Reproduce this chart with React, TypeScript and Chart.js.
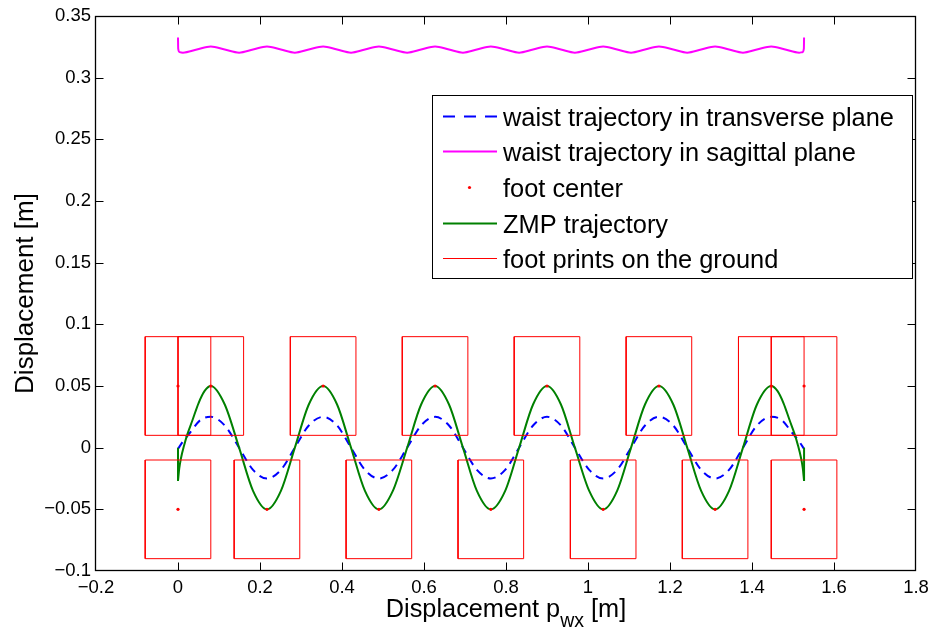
import React, { useEffect, useRef } from 'react';
import { Chart, registerables } from 'chart.js';

Chart.register(...registerables);

// ---- axes ----
const xTicks = [-0.2, 0, 0.2, 0.4, 0.6, 0.8, 1, 1.2, 1.4, 1.6, 1.8];
const yTicks = [-0.1, -0.05, 0, 0.05, 0.1, 0.15, 0.2, 0.25, 0.3, 0.35];
const xTitleMain = 'Displacement p';
const xTitleSub = 'wx';
const xTitleTail = ' [m]';
const yTitle = 'Displacement [m]';

// ---- foot prints ----
const footUpperX = [0, 0.08, 0.354, 0.627, 0.9, 1.173, 1.447, 1.527];
const footLowerX = [0, 0.217, 0.49, 0.763, 1.037, 1.31, 1.527];
const footUpperY = 0.05;
const footLowerY = -0.05;
const footLength = 0.16;
const footWidth = 0.08;

// ---- ZMP trajectory ----
const zmpX = [
  0, 0.003, 0.007, 0.015, 0.023, 0.035, 0.05, 0.065,
  0.08, 0.114, 0.149, 0.183, 0.217, 0.251, 0.285, 0.319,
  0.354, 0.388, 0.422, 0.456, 0.49, 0.524, 0.559, 0.593,
  0.627, 0.661, 0.695, 0.729, 0.763, 0.798, 0.832, 0.866,
  0.9, 0.934, 0.968, 1.003, 1.037, 1.071, 1.105, 1.139,
  1.173, 1.208, 1.242, 1.276, 1.31, 1.344, 1.378, 1.412,
  1.447,
  1.462, 1.477, 1.492, 1.504, 1.512, 1.52, 1.524, 1.527,
];
const zmpY = [
  -0.027, -0.017, -0.009, 0.002, 0.011, 0.022, 0.036, 0.046,
  0.05, 0.035, 0, -0.035, -0.05, -0.035, 0, 0.035,
  0.05, 0.035, 0, -0.035, -0.05, -0.035, 0, 0.035,
  0.05, 0.035, 0, -0.035, -0.05, -0.035, 0, 0.035,
  0.05, 0.035, 0, -0.035, -0.05, -0.035, 0, 0.035,
  0.05, 0.035, 0, -0.035, -0.05, -0.035, 0, 0.035,
  0.05,
  0.046, 0.036, 0.022, 0.011, 0.002, -0.009, -0.017, -0.027,
];
const zmpStubStartX = [0, 0];
const zmpStubStartY = [0.0, -0.027];
const zmpStubEndX = [1.527, 1.527];
const zmpStubEndY = [-0.027, 0.0];

// ---- waist trajectory in transverse plane ----
const waistX = [
  0, 0.012, 0.03, 0.055,
  0.08, 0.114, 0.149, 0.183, 0.217, 0.251, 0.285, 0.319,
  0.354, 0.388, 0.422, 0.456, 0.49, 0.524, 0.559, 0.593,
  0.627, 0.661, 0.695, 0.729, 0.763, 0.798, 0.832, 0.866,
  0.9, 0.934, 0.968, 1.003, 1.037, 1.071, 1.105, 1.139,
  1.173, 1.208, 1.242, 1.276, 1.31, 1.344, 1.378, 1.412,
  1.447,
  1.472, 1.497, 1.515, 1.527,
];
const waistY = [
  -0.001, 0.005, 0.0125, 0.0225,
  0.025, 0.018, 0, -0.018, -0.025, -0.018, 0, 0.018,
  0.025, 0.018, 0, -0.018, -0.025, -0.018, 0, 0.018,
  0.025, 0.018, 0, -0.018, -0.025, -0.018, 0, 0.018,
  0.025, 0.018, 0, -0.018, -0.025, -0.018, 0, 0.018,
  0.025, 0.018, 0, -0.018, -0.025, -0.018, 0, 0.018,
  0.025,
  0.0225, 0.0125, 0.005, -0.001,
];

// ---- waist trajectory in sagittal plane ----
const sagX = [
  0, 0.0005, 0.004, 0.012, 0.046,
  0.08, 0.114, 0.149, 0.183, 0.217, 0.251, 0.285, 0.319,
  0.354, 0.388, 0.422, 0.456, 0.49, 0.524, 0.559, 0.593,
  0.627, 0.661, 0.695, 0.729, 0.763, 0.798, 0.832, 0.866,
  0.9, 0.934, 0.968, 1.003, 1.037, 1.071, 1.105, 1.139,
  1.173, 1.208, 1.242, 1.276, 1.31, 1.344, 1.378, 1.412,
  1.447,
  1.481, 1.515, 1.523, 1.5265, 1.527,
];
const sagY = [
  0.3325, 0.3235, 0.3207, 0.3203, 0.3228,
  0.3253, 0.3228, 0.3203, 0.3228, 0.3253, 0.3228, 0.3203, 0.3228,
  0.3253, 0.3228, 0.3203, 0.3228, 0.3253, 0.3228, 0.3203, 0.3228,
  0.3253, 0.3228, 0.3203, 0.3228, 0.3253, 0.3228, 0.3203, 0.3228,
  0.3253, 0.3228, 0.3203, 0.3228, 0.3253, 0.3228, 0.3203, 0.3228,
  0.3253, 0.3228, 0.3203, 0.3228, 0.3253, 0.3228, 0.3203, 0.3228,
  0.3253,
  0.3228, 0.3203, 0.3207, 0.3235, 0.3325,
];

const legendLabels = [
  'waist trajectory in transverse plane',
  'waist trajectory in sagittal plane',
  'foot center',
  'ZMP trajectory',
  'foot prints on the ground',
];

const BLUE = '#0000ff';
const MAGENTA = '#ff00ff';
const RED = '#ff0000';
const GREEN = '#008000';
const FONT = '"Liberation Sans", Arial, Helvetica, sans-serif';

const fmtTick = (v: number) => String(+Number(v).toFixed(3)).replace('-', '\u2212');

const pts = (xs: number[], ys: number[]) => xs.map((x, i) => ({ x, y: ys[i] }));

const decorPlugin = {
  id: 'decor',
  afterDatasetsDraw(chart: any) {
    const { ctx, chartArea: a, scales } = chart;
    const xs = scales.x;
    const ys = scales.y;
    ctx.save();
    // frame
    ctx.strokeStyle = '#000';
    ctx.lineWidth = 1.3;
    const L = Math.round(a.left) - 0.5;
    const R = Math.round(a.right) - 0.5;
    const T = Math.round(a.top) + 0.5;
    const B = Math.round(a.bottom) - 0.5;
    ctx.strokeRect(L, T, R - L, B - T);
    // inward ticks
    ctx.lineWidth = 1;
    const tl = 8;
    ctx.beginPath();
    xTicks.forEach((v, i) => {
      if (i === 0 || i === xTicks.length - 1) return;
      const px = Math.round(xs.getPixelForValue(v)) + 0.5;
      ctx.moveTo(px, B); ctx.lineTo(px, B - tl);
      ctx.moveTo(px, T); ctx.lineTo(px, T + tl);
    });
    yTicks.forEach((v, i) => {
      if (i === 0 || i === yTicks.length - 1) return;
      const py = Math.round(ys.getPixelForValue(v)) + 0.5;
      ctx.moveTo(L, py); ctx.lineTo(L + tl, py);
      ctx.moveTo(R, py); ctx.lineTo(R - tl, py);
    });
    ctx.stroke();

    // legend
    const lx0 = 432.5, ly0 = 95.5, lw = 480, lh = 183;
    ctx.fillStyle = '#fff';
    ctx.fillRect(lx0, ly0, lw, lh);
    ctx.strokeStyle = '#000';
    ctx.lineWidth = 1;
    ctx.strokeRect(lx0, ly0, lw, lh);
    ctx.font = `25.4px ${FONT}`;
    ctx.textAlign = 'left';
    ctx.textBaseline = 'alphabetic';
    const sx0 = 443, sx1 = 497, tx = 503;
    legendLabels.forEach((label, i) => {
      const base = 125.7 + i * 35.6;
      const ly = Math.round(base - 10) + 0.5;
      ctx.save();
      if (i === 0) {
        ctx.strokeStyle = BLUE; ctx.lineWidth = 2; ctx.setLineDash([12, 9]);
        ctx.beginPath(); ctx.moveTo(sx0, ly); ctx.lineTo(sx1, ly); ctx.stroke();
      } else if (i === 1) {
        ctx.strokeStyle = MAGENTA; ctx.lineWidth = 2;
        ctx.beginPath(); ctx.moveTo(sx0, ly); ctx.lineTo(sx1, ly); ctx.stroke();
      } else if (i === 2) {
        ctx.fillStyle = RED;
        ctx.beginPath(); ctx.arc((sx0 + sx1) / 2 - 0.5, ly, 1.6, 0, Math.PI * 2); ctx.fill();
      } else if (i === 3) {
        ctx.strokeStyle = GREEN; ctx.lineWidth = 2;
        ctx.beginPath(); ctx.moveTo(sx0, ly); ctx.lineTo(sx1, ly); ctx.stroke();
      } else {
        ctx.strokeStyle = RED; ctx.lineWidth = 1;
        ctx.beginPath(); ctx.moveTo(sx0, ly); ctx.lineTo(sx1, ly); ctx.stroke();
      }
      ctx.restore();
      ctx.fillStyle = '#000';
      ctx.fillText(label, tx, base);
    });

    // x title
    const mainFont = `25.3px ${FONT}`;
    const subFont = `19.5px ${FONT}`;
    ctx.font = mainFont;
    const w1 = ctx.measureText(xTitleMain).width;
    const w3 = ctx.measureText(xTitleTail).width;
    ctx.font = subFont;
    const w2 = ctx.measureText(xTitleSub).width;
    const total = w1 + w2 + w3;
    let cx = (a.left + a.right) / 2 - total / 2;
    const baseY = 616.5;
    ctx.fillStyle = '#000';
    ctx.textAlign = 'left';
    ctx.font = mainFont;
    ctx.fillText(xTitleMain, cx, baseY);
    cx += w1;
    ctx.font = subFont;
    ctx.fillText(xTitleSub, cx, baseY + 10.5);
    cx += w2;
    ctx.font = mainFont;
    ctx.fillText(xTitleTail, cx, baseY);

    // y title
    ctx.save();
    ctx.translate(33, (a.top + a.bottom) / 2);
    ctx.rotate(-Math.PI / 2);
    ctx.font = `26px ${FONT}`;
    ctx.textAlign = 'center';
    ctx.fillText(yTitle, 0, 0);
    ctx.restore();

    ctx.restore();
  },
};

export default function App() {
  const ref = useRef<HTMLCanvasElement>(null);
  useEffect(() => {
    const canvas = ref.current;
    if (!canvas) return;
    const rectPts = (cx: number, cy: number) => [
      { x: cx - footLength / 2, y: cy - footWidth / 2 },
      { x: cx + footLength / 2, y: cy - footWidth / 2 },
      { x: cx + footLength / 2, y: cy + footWidth / 2 },
      { x: cx - footLength / 2, y: cy + footWidth / 2 },
      { x: cx - footLength / 2, y: cy - footWidth / 2 },
    ];
    const rects: any[] = [];
    footUpperX.forEach((x) => rects.push(rectPts(x, footUpperY)));
    footLowerX.forEach((x) => rects.push(rectPts(x, footLowerY)));

    const lineBase = { showLine: true, pointRadius: 0, fill: false, borderCapStyle: 'butt' };
    const datasets: any[] = [
      {
        ...lineBase,
        label: 'waist trajectory in transverse plane',
        data: pts(waistX, waistY),
        borderColor: BLUE,
        borderWidth: 2,
        borderDash: [8, 6],
        cubicInterpolationMode: 'monotone',
        order: 5,
      },
      {
        ...lineBase,
        label: 'waist trajectory in sagittal plane',
        data: pts(sagX, sagY),
        borderColor: MAGENTA,
        borderWidth: 2,
        cubicInterpolationMode: 'monotone',
        order: 4,
      },
      {
        ...lineBase,
        label: 'ZMP trajectory',
        data: pts(zmpX, zmpY),
        borderColor: GREEN,
        borderWidth: 2,
        cubicInterpolationMode: 'monotone',
        order: 3,
      },
      {
        ...lineBase,
        label: 'zmp-start',
        data: pts(zmpStubStartX, zmpStubStartY),
        borderColor: GREEN,
        borderWidth: 2,
        order: 3,
      },
      {
        ...lineBase,
        label: 'zmp-end',
        data: pts(zmpStubEndX, zmpStubEndY),
        borderColor: GREEN,
        borderWidth: 2,
        order: 3,
      },
      ...rects.map((r, i) => ({
        ...lineBase,
        label: 'foot prints on the ground ' + i,
        data: r,
        borderColor: RED,
        borderWidth: 1,
        tension: 0,
        order: 1,
      })),
      {
        label: 'foot center',
        data: [
          ...footUpperX.map((x) => ({ x, y: footUpperY })),
          ...footLowerX.map((x) => ({ x, y: footLowerY })),
        ],
        showLine: false,
        pointRadius: 1.6,
        pointBackgroundColor: RED,
        pointBorderWidth: 0,
        order: 0,
      },
    ];

    const chart = new Chart(canvas, {
      type: 'scatter',
      data: { datasets },
      options: {
        animation: false,
        responsive: false,
        events: [],
        layout: { padding: { left: 0, right: 15, top: 16, bottom: 0 } },
        plugins: { legend: { display: false }, tooltip: { enabled: false } },
        scales: {
          x: {
            type: 'linear',
            min: -0.2,
            max: 1.8,
            grid: { display: false, drawTicks: false },
            border: { display: false },
            afterBuildTicks: (s: any) => { s.ticks = xTicks.map((value) => ({ value })); },
            afterFit: (s: any) => {
              s.height = 57;
              s.paddingLeft = 0;
              s.paddingRight = 0;
            },
            ticks: {
              color: '#000',
              font: { family: FONT, size: 18.5 },
              padding: 6,
              maxRotation: 0,
              autoSkip: false,
              callback: (v: any) => fmtTick(v),
            },
          },
          y: {
            type: 'linear',
            min: -0.1,
            max: 0.35,
            grid: { display: false, drawTicks: false },
            border: { display: false },
            afterBuildTicks: (s: any) => { s.ticks = yTicks.map((value) => ({ value })); },
            afterFit: (s: any) => {
              s.width = 96;
              s.paddingTop = 0;
              s.paddingBottom = 0;
            },
            ticks: {
              color: '#000',
              font: { family: FONT, size: 18.5 },
              padding: 5,
              autoSkip: false,
              callback: (v: any) => fmtTick(v),
            },
          },
        },
      },
      plugins: [decorPlugin],
    });
    return () => chart.destroy();
  }, []);

  return (
    <div style={{ position: 'absolute', left: 0, top: 0, width: 931, height: 628, background: '#fff' }}>
      <canvas ref={ref} width={931} height={628} style={{ display: 'block' }} />
    </div>
  );
}
